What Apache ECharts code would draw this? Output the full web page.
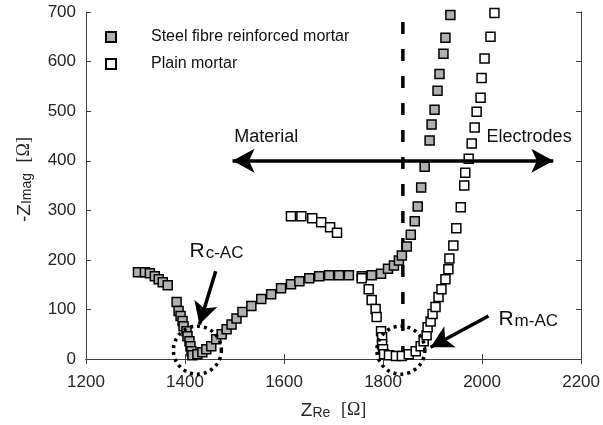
<!DOCTYPE html>
<html>
<head>
<meta charset="utf-8">
<script src="https://cdn.jsdelivr.net/npm/echarts@6/dist/echarts.min.js"></script>
<style>html,body{margin:0;padding:0;background:#fff;}#c{width:603px;height:425px;}</style>
</head>
<body>
<div id="c"></div>
<script>
// ---- data ----
const xTicks = [1200, 1400, 1600, 1800, 2000, 2200];
const yTicks = [0, 100, 200, 300, 400, 500, 600, 700];
const seriesNames = ['Steel fibre reinforced mortar', 'Plain mortar'];
const steelX = [1305,1319,1329,1339,1347,1355,1365,1383,1387,1391,1395,1397,1403,1405,1409,1411,1413,1415,1425,1435,1443,1453,1463,1474,1484,1494,1504,1516,1534,1554,1574,1594,1614,1631,1651,1671,1691,1711,1731,1757,1777,1796,1810,1822,1832,1838,1848,1856,1864,1870,1877,1884,1894,1898,1904,1910,1914,1922,1926,1936];
const steelY = [175,175,173,167,161,155,149,115,97,87,77,66,56,46,36,26,16,8,10,14,20,26,40,50,60,70,82,95,107,121,131,143,151,157,163,167,169,169,169,167,169,172,182,189,199,209,227,251,278,308,346,388,441,473,503,541,575,616,648,694];
const plainX = [1614,1635,1657,1675,1693,1707,1757,1771,1777,1785,1787,1796,1798,1798,1800,1802,1812,1826,1838,1852,1866,1876,1882,1888,1890,1896,1900,1906,1912,1918,1926,1932,1934,1942,1948,1957,1964,1966,1973,1979,1985,1989,1997,1999,2005,2017,2025];
const plainY = [288,288,284,276,266,255,163,141,119,101,85,56,44,30,20,10,8,6,6,10,16,26,36,48,64,76,91,105,125,141,161,181,203,229,264,306,350,376,404,435,467,499,527,567,606,650,698];
// dashed boundary line
const boundaryX = 1840;
const boundaryY = [680, 10];
// double arrow (Material <-> Electrodes)
const dblArrowX = [1496, 2144];
const dblArrowY = 400;
// annotation arrows [fromX, fromY, toX, toY]
const arrowC = [1462, 177, 1429, 70];
const arrowM = [2013, 87, 1896, 24];
// dotted circles
const circleX = [1425, 1836];
const circleY = [18, 18];
// text labels
const labelTexts = ['Material', 'Electrodes'];
const labelX = [1564, 2095];
const labelY = [447, 447];
const rLabelX = [1409, 2033];
const rLabelY = [218, 81];
const rLabelSub = ['c-AC', 'm-AC'];

const pair = (xs, ys) => xs.map((x, i) => [x, ys[i]]);
const FONT = '"Liberation Sans", Arial, Helvetica, sans-serif';
const SERIF = '"Liberation Serif", "DejaVu Serif", serif';
const chart = echarts.init(document.getElementById('c'), null, {renderer: 'canvas'});

const axisLine = {show: true, lineStyle: {color: '#404040', width: 1}};
const tick = {show: true, inside: true, length: 5, lineStyle: {color: '#404040'}};
const nameRich = {
  z: {fontSize: 19, color: '#262626', fontFamily: FONT, lineHeight: 19, verticalAlign: 'top'},
  s: {fontSize: 14, color: '#262626', fontFamily: FONT, lineHeight: 14, verticalAlign: 'bottom', padding: [10, 0, 0, 0]},
  o: {fontSize: 18, color: '#262626', fontFamily: SERIF, lineHeight: 19, verticalAlign: 'top'}
};

const option = {
  animation: false,
  backgroundColor: '#fff',
  textStyle: {fontFamily: FONT},
  grid: {left: 86, right: 20, top: 12, bottom: 65, containLabel: false},
  legend: {
    orient: 'vertical', left: 100, top: 24,
    itemWidth: 10, itemHeight: 10, itemGap: 11,
    data: seriesNames,
    textStyle: {fontSize: 16, lineHeight: 16, color: '#111', padding: [0, 0, 0, 30], fontFamily: FONT}
  },
  xAxis: [{
    type: 'value', min: xTicks[0], max: xTicks[xTicks.length - 1], interval: 200,
    axisLine, axisTick: tick, splitLine: {show: false},
    axisLabel: {fontSize: 17, color: '#262626', margin: 15, fontFamily: FONT, formatter: v => String(v)},
    name: '{z|Z}{s|Re}{z|  }{o|[Ω]}', nameLocation: 'middle', nameGap: 40,
    nameTextStyle: {rich: nameRich}
  }, {
    type: 'value', position: 'top', min: xTicks[0], max: xTicks[xTicks.length - 1], interval: 200,
    axisLine, axisTick: tick, axisLabel: {show: false}, splitLine: {show: false}
  }],
  yAxis: [{
    type: 'value', min: yTicks[0], max: yTicks[yTicks.length - 1], interval: 100,
    axisLine, axisTick: tick, splitLine: {show: false},
    axisLabel: {fontSize: 17, color: '#262626', margin: 10, fontFamily: FONT, formatter: v => String(v)},
    name: '{z|-Z}{s|Imag}{z|  }{o|[Ω]}', nameLocation: 'middle', nameGap: 52, nameRotate: 90,
    nameTextStyle: {padding: [0, 0, 0, 12], rich: nameRich}
  }, {
    type: 'value', position: 'right', min: yTicks[0], max: yTicks[yTicks.length - 1], interval: 100,
    axisLine, axisTick: tick, axisLabel: {show: false}, splitLine: {show: false}
  }],
  series: [
    {
      name: 'boundary', type: 'line', data: boundaryY.map(y => [boundaryX, y]),
      symbol: 'none', lineStyle: {color: '#000', width: 3.5, type: [12, 15]}, z: 1, silent: true
    },
    {
      name: 'arrows', type: 'line', data: [], silent: true, z: 1,
      markLine: {
        silent: true, animation: false, label: {show: false},
        lineStyle: {color: '#000', width: 3.5, type: 'solid', opacity: 1},
        symbolSize: [18, 22],
        data: [
          [{coord: [dblArrowX[0], dblArrowY], symbol: 'arrow'}, {coord: [dblArrowX[1], dblArrowY], symbol: 'arrow'}],
          [{coord: [arrowC[0], arrowC[1]], symbol: 'none'}, {coord: [arrowC[2], arrowC[3]], symbol: 'arrow'}],
          [{coord: [arrowM[0], arrowM[1]], symbol: 'none'}, {coord: [arrowM[2], arrowM[3]], symbol: 'arrow'}]
        ]
      }
    },
    {
      name: seriesNames[0], type: 'scatter', data: pair(steelX, steelY),
      symbol: 'rect', symbolSize: 9, z: 3,
      itemStyle: {color: '#b0b0b0', borderColor: '#000', borderWidth: 1.5, opacity: 1}
    },
    {
      name: seriesNames[1], type: 'scatter', data: pair(plainX, plainY),
      symbol: 'rect', symbolSize: 9, z: 4,
      itemStyle: {color: '#fff', borderColor: '#000', borderWidth: 1.5, opacity: 1}
    },
    {
      name: 'circles', type: 'scatter', data: pair(circleX, circleY), z: 5, silent: true,
      symbol: 'circle', symbolSize: 48,
      itemStyle: {color: 'rgba(0,0,0,0)', borderColor: '#000', borderWidth: 3.5, borderType: [3, 4], opacity: 1}
    },
    {
      name: 'labels', type: 'scatter', data: pair(labelX, labelY), symbolSize: 0, silent: true, z: 6,
      itemStyle: {opacity: 1},
      label: {show: true, position: 'inside', fontSize: 18, color: '#111', fontFamily: FONT,
        formatter: p => labelTexts[p.dataIndex]}
    },
    {
      name: 'rlabels', type: 'scatter', data: pair(rLabelX, rLabelY), symbolSize: 0, silent: true, z: 6,
      itemStyle: {opacity: 1},
      label: {show: true, position: 'right', distance: 0,
        formatter: p => '{r|R}{s|' + rLabelSub[p.dataIndex] + '}',
        rich: {
          r: {fontSize: 21, color: '#111', fontFamily: FONT, lineHeight: 21, verticalAlign: 'top'},
          s: {fontSize: 17, color: '#111', fontFamily: FONT, lineHeight: 17, verticalAlign: 'bottom', padding: [12, 0, 0, 1]}
        }
      }
    }
  ]
};
chart.setOption(option);
</script>
</body>
</html>
